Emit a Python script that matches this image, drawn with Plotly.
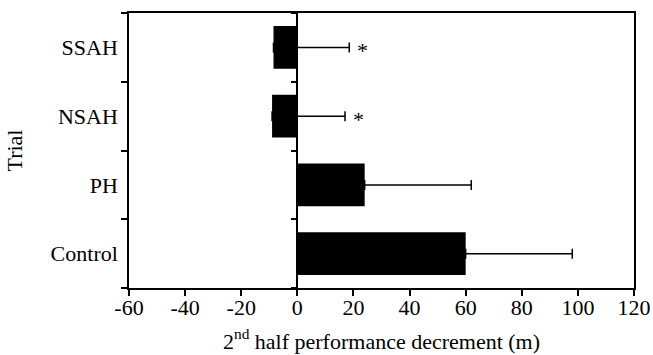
import plotly.graph_objects as go

trials = ["Control", "PH", "NSAH", "SSAH"]
means = [60, 24, -9, -8.5]
sd_plus = [38, 38, 26, 27]
sig_marks = ["", "", "*", "*"]
x_ticks = [-60, -40, -20, 0, 20, 40, 60, 80, 100, 120]
x_ticktext = ["-60", "-40", "-20", "0", "20", "40", "60", "80", "100", "120"]

FONT = "Liberation Serif"
x_range = [-60, 120]

fig = go.Figure()
fig.add_trace(go.Bar(
    y=trials, x=means, orientation="h",
    marker=dict(color="black", line=dict(width=0)),
    width=0.62,
    error_x=dict(type="data", array=sd_plus, arrayminus=[0] * len(trials),
                 symmetric=False, color="black", thickness=1.5, width=5),
    showlegend=False,
))

for t, m, s, mk in zip(trials, means, sd_plus, sig_marks):
    if mk:
        fig.add_annotation(x=m + s, y=t, text=mk, showarrow=False,
                           xanchor="left", xshift=6, yshift=-3,
                           font=dict(family=FONT, size=22, color="black"))

fig.add_trace(go.Scatter(y=trials, x=[None] * 4, yaxis="y2", showlegend=False,
                         mode="markers", hoverinfo="skip"))

zero_pos = (0 - x_range[0]) / (x_range[1] - x_range[0])

fig.update_layout(
    width=653, height=355,
    margin=dict(l=129, r=19, t=13, b=67),
    plot_bgcolor="white", paper_bgcolor="white",
    font=dict(family=FONT, size=22, color="black"),
    xaxis=dict(
        range=x_range, tickvals=x_ticks, ticktext=x_ticktext,
        ticks="outside", ticklen=6, tickwidth=1.5, tickcolor="black",
        showline=True, linecolor="black", linewidth=1.5, mirror=True,
        showgrid=False, zeroline=False, automargin=False,
        ticklabelstandoff=-7,
        title=dict(text="2<sup>nd</sup> half performance decrement (m)",
                   font=dict(family=FONT, size=22), standoff=14),
        tickfont=dict(family=FONT, size=22),
    ),
    yaxis=dict(
        categoryorder="array", categoryarray=trials,
        range=[-0.5, 3.5],
        ticks="outside", ticklen=6, tickwidth=1.5, tickcolor="black",
        tickson="boundaries", ticklabelstandoff=5,
        showline=True, linecolor="black", linewidth=1.5, mirror=True,
        showgrid=False, zeroline=False, automargin=False,
        title=dict(text="Trial", font=dict(family=FONT, size=22), standoff=22),
        tickfont=dict(family=FONT, size=22),
    ),
    yaxis2=dict(
        overlaying="y", anchor="free", position=zero_pos, side="left",
        categoryorder="array", categoryarray=trials,
        range=[-0.5, 3.5], automargin=False,
        ticks="outside", ticklen=6, tickwidth=1.5, tickcolor="black",
        tickson="boundaries", showticklabels=False,
        showline=True, linecolor="black", linewidth=1.5,
        showgrid=False, zeroline=False,
    ),
)

fig.write_html("out.html", config={"displayModeBar": False},
               post_script="document.body.style.margin='0';")
